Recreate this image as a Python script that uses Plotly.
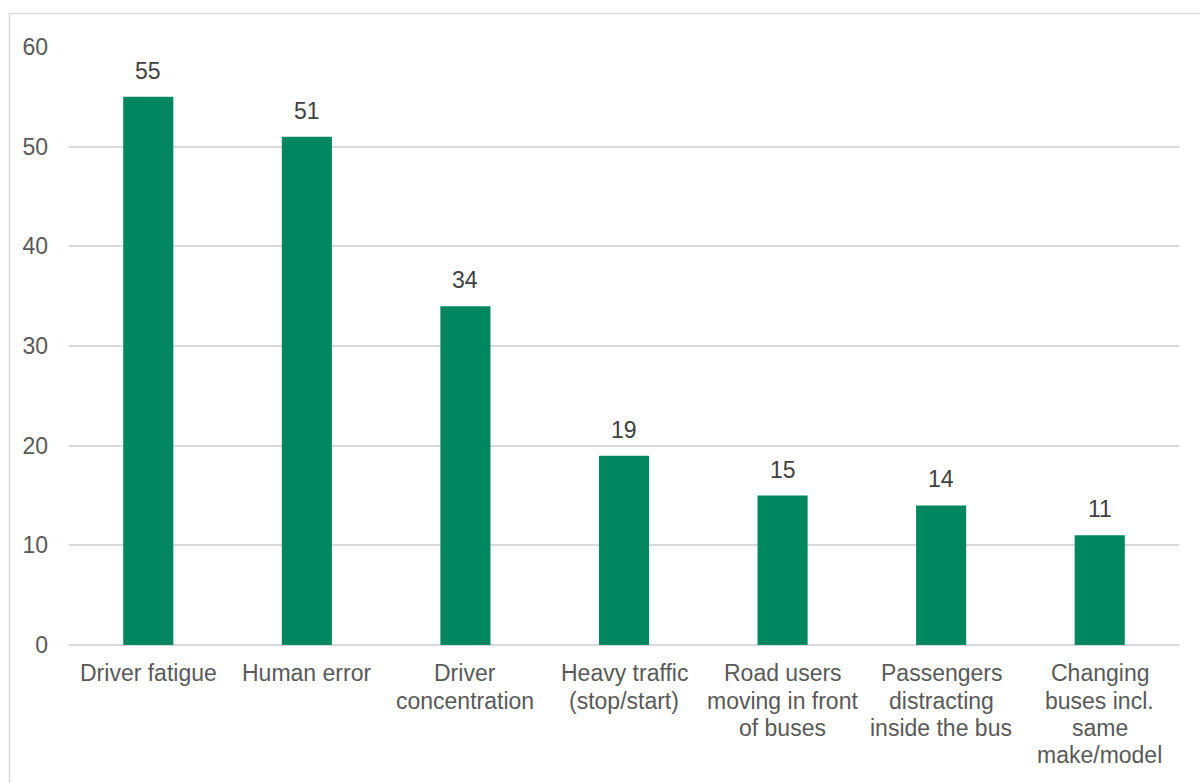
import plotly.graph_objects as go

categories = [
    "Driver fatigue",
    "Human error",
    "Driver concentration",
    "Heavy traffic (stop/start)",
    "Road users moving in front of buses",
    "Passengers distracting inside the bus",
    "Changing buses incl. same make/model",
]
# how each category label is wrapped under its bar
label_lines = [
    ["Driver fatigue"],
    ["Human error"],
    ["Driver", "concentration"],
    ["Heavy traffic", "(stop/start)"],
    ["Road users", "moving in front", "of buses"],
    ["Passengers", "distracting", "inside the bus"],
    ["Changing", "buses incl.", "same", "make/model"],
]
values = [55, 51, 34, 19, 15, 14, 11]
y_ticks = [0, 10, 20, 30, 40, 50, 60]

BAR_COLOR = "#00875F"
FONT = "Liberation Sans, Arial, sans-serif"
LABEL_SIZE = 23
LINE_STEP = 27.2

W, H = 1200, 783
ML, MR, MT, MB = 69, 21, 47, 138
plot_w = W - ML - MR
plot_h = H - MT - MB

fig = go.Figure()
fig.add_trace(go.Bar(
    x=categories,
    y=values,
    marker=dict(color=BAR_COLOR, line=dict(width=0)),
    hoverinfo="x+y",
))

# value labels above each bar
for cat, v in zip(categories, values):
    fig.add_annotation(
        x=cat, y=v, text=str(v), showarrow=False,
        yanchor="bottom", yshift=11,
        font=dict(family=FONT, size=LABEL_SIZE, color="#404040"),
    )

# category labels, one annotation per wrapped line for tight line spacing
for cat, lines in zip(categories, label_lines):
    for i, line in enumerate(lines):
        fig.add_annotation(
            x=cat, xref="x", y=0, yref="paper", text=line, showarrow=False,
            xanchor="center", yanchor="middle",
            yshift=-(28.4 + LINE_STEP * i),
            font=dict(family=FONT, size=LABEL_SIZE, color="#595959"),
        )

# outer frame of the chart area
def px_to_paper_x(px):
    return (px - ML) / plot_w

def px_to_paper_y(py):
    return (H - MB - py) / plot_h

fig.add_shape(
    type="rect", xref="paper", yref="paper",
    x0=px_to_paper_x(9.5), x1=px_to_paper_x(1210),
    y0=px_to_paper_y(800), y1=px_to_paper_y(13.5),
    line=dict(color="#D9D9D9", width=1.5), fillcolor="rgba(0,0,0,0)",
    layer="below",
)

fig.update_layout(
    width=W, height=H,
    margin=dict(l=ML, r=MR, t=MT, b=MB, pad=0),
    paper_bgcolor="white", plot_bgcolor="white",
    bargap=0.684,
    showlegend=False,
    font=dict(family=FONT, color="#595959"),
)
fig.update_xaxes(
    showgrid=False, showline=False, zeroline=False,
    ticks="", showticklabels=False,
)
fig.update_yaxes(
    range=[0, 60], tickvals=y_ticks,
    showgrid=True, gridcolor="#D9D9D9", gridwidth=1.5,
    zeroline=True, zerolinecolor="#D9D9D9", zerolinewidth=1.5,
    showline=False, ticks="",
    tickfont=dict(family=FONT, size=LABEL_SIZE, color="#595959"),
    ticklabelstandoff=20,
)

fig.write_html("out.html")
